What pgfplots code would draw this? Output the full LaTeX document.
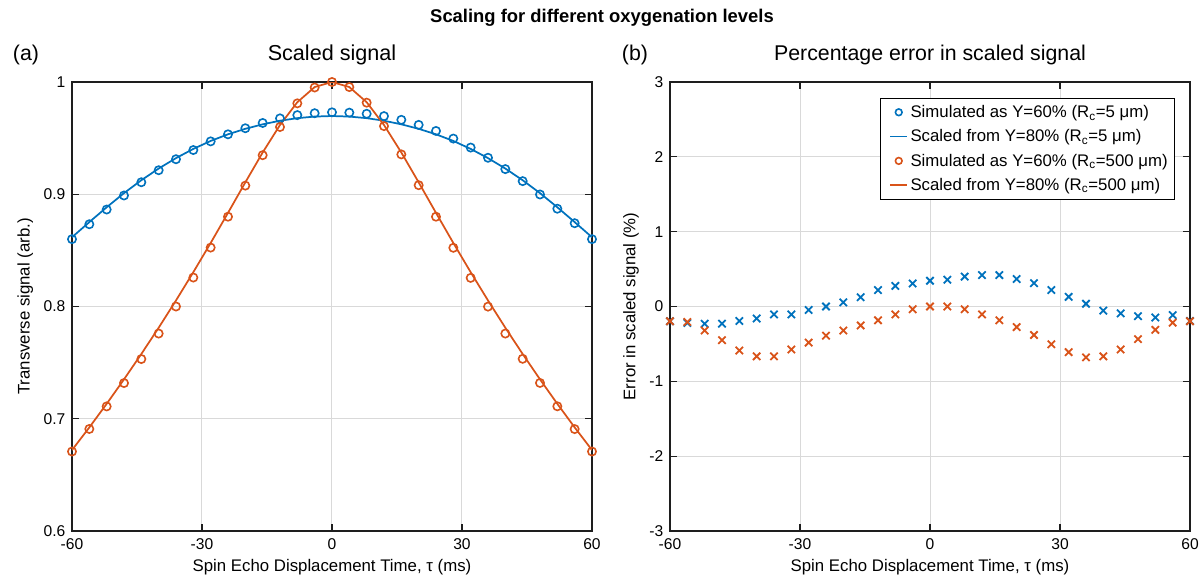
\documentclass[border=0pt]{standalone}
\usepackage{pgfplots}
\pgfplotsset{compat=1.18}
\usepackage{pgfplotstable}
\usepackage{fontspec}
\setmainfont{Liberation Sans}
\definecolor{mblue}{RGB}{0,114,189}
\definecolor{morange}{RGB}{217,83,25}
\definecolor{axgray}{RGB}{30,30,30}

\newcommand\lgline[1]{\tikz[baseline=-0.6ex]{\path[draw=none,fill=none] (0cm,-0.1cm) rectangle (0.62cm,0.1cm);\fill[#1,draw=none] (0.08cm,-0.65pt) rectangle (0.54cm,0.65pt);}}
\newcommand\lgmark[1]{\tikz[baseline=-0.6ex]{\path[draw=none,fill=none] (0cm,-0.1cm) rectangle (0.62cm,0.1cm);\draw[#1,line width=1.2pt,fill=none] (0.31cm,0cm) circle (2.5pt);}}

\pgfplotstableread{
t     simB    lineB   simO    lineO
-60   0.8600  0.8617  0.6708  0.6721
-56   0.8733  0.8752  0.6909  0.6923
-52   0.8864  0.8884  0.7110  0.7133
-48   0.8989  0.9010  0.7318  0.7351
-44   0.9107  0.9125  0.7532  0.7577
-40   0.9214  0.9229  0.7759  0.7811
-36   0.9312  0.9322  0.8000  0.8054
-32   0.9394  0.9404  0.8258  0.8306
-28   0.9471  0.9475  0.8525  0.8566
-24   0.9534  0.9534  0.8800  0.8834
-20   0.9588  0.9583  0.9077  0.9106
-16   0.9635  0.9623  0.9348  0.9372
-12   0.9676  0.9655  0.9599  0.9617
-8    0.9705  0.9678  0.9810  0.9820
-4    0.9722  0.9692  0.9951  0.9955
0     0.9730  0.9697  1.0000  1.0000
4     0.9727  0.9692  0.9955  0.9955
8     0.9717  0.9678  0.9816  0.9820
12    0.9696  0.9655  0.9607  0.9617
16    0.9663  0.9623  0.9355  0.9372
20    0.9618  0.9583  0.9081  0.9106
24    0.9564  0.9534  0.8800  0.8834
28    0.9496  0.9475  0.8523  0.8566
32    0.9416  0.9404  0.8255  0.8306
36    0.9325  0.9322  0.7999  0.8054
40    0.9224  0.9229  0.7759  0.7811
44    0.9117  0.9125  0.7534  0.7577
48    0.8998  0.9010  0.7319  0.7351
52    0.8871  0.8884  0.7111  0.7133
56    0.8742  0.8752  0.6908  0.6923
60    0.8600  0.8617  0.6708  0.6721
}\sigdata

\pgfplotstableread{
t     errB     errO
-60   -0.197   -0.197
-56   -0.220   -0.207
-52   -0.230   -0.321
-48   -0.230   -0.450
-44   -0.193   -0.588
-40   -0.160   -0.666
-36   -0.106   -0.666
-32   -0.106   -0.574
-28   -0.046   -0.482
-24    0.000   -0.390
-20    0.055   -0.321
-16    0.124   -0.253
-12    0.220   -0.184
-8     0.275   -0.106
-4     0.308   -0.037
0      0.344    0.000
4      0.358    0.000
8      0.400   -0.037
12     0.420   -0.106
16     0.420   -0.184
20     0.367   -0.275
24     0.312   -0.381
28     0.220   -0.505
32     0.129   -0.610
36     0.037   -0.680
40    -0.055   -0.666
44    -0.092   -0.574
48    -0.129   -0.436
52    -0.147   -0.312
56    -0.115   -0.216
60    -0.193   -0.197
}\errdata

\pgfplotsset{
  mstyle/.style={
    scale only axis,
    width=390pt, height=336.75pt,
    anchor=south west,
    xmin=-60, xmax=60,
    xtick={-60,-30,0,30,60},
    axis line style={axgray, line width=0.9pt},
    tick style={axgray, line width=0.9pt},
    tick align=inside,
    major tick length=5pt,
    xtick pos=both, ytick pos=both,
    grid=major,
    major grid style={black!15, line width=0.75pt},
    /pgf/number format/assume math mode=true,
    tick label style={font=\fontsize{11.7}{13}\selectfont, text=black},
    xticklabel style={yshift=-2.5pt},
    yticklabel style={xshift=-1.5pt},
    label style={font=\fontsize{12.6}{14}\selectfont},
    xlabel={Spin Echo Displacement Time, τ (ms)},
    xlabel style={yshift=0pt},
    ylabel style={yshift=1pt},
  }
}

\begin{document}
\begin{tikzpicture}
\path[use as bounding box] (0pt,0pt) rectangle (903pt,-433.5pt);

\begin{axis}[mstyle, at={(54pt,-398.25pt)},
  ymin=0.6, ymax=1, ytick={0.6,0.7,0.8,0.9,1},
  ylabel={Transverse signal (arb.)}]
\addplot[mblue, line width=1.3pt, no marks] table[x=t, y=lineB] {\sigdata};
\addplot[morange, line width=1.3pt, no marks] table[x=t, y=lineO] {\sigdata};
\addplot[mblue, only marks, mark=o, mark size=3.1pt, line width=1.2pt] table[x=t, y=simB] {\sigdata};
\addplot[morange, only marks, mark=o, mark size=3.1pt, line width=1.2pt] table[x=t, y=simO] {\sigdata};
\end{axis}

\begin{axis}[mstyle, at={(502.5pt,-398.25pt)},
  ymin=-3, ymax=3, ytick={-3,-2,-1,0,1,2,3},
  ylabel={Error in scaled signal (\%)},
  legend style={at={(0.971,0.964)}, anchor=north east, draw=black, line width=0.9pt,
    font=\fontsize{12.6}{14}\selectfont, row sep=3.6pt, inner xsep=3pt, inner ysep=3pt,
    cells={anchor=west}},
  legend cell align=left,
  legend image code/.code={},
]
\addplot[mblue, only marks, mark=x, mark size=3.9pt, line width=1.35pt, forget plot] table[x=t, y=errB] {\errdata};
\addplot[morange, only marks, mark=x, mark size=3.9pt, line width=1.35pt, forget plot] table[x=t, y=errO] {\errdata};
\addlegendimage{empty legend}
\addlegendentry{\lgmark{mblue}Simulated as Y=60\% (R\textsubscript{c}=5 μm)}
\addlegendimage{empty legend}
\addlegendentry{\lgline{mblue}Scaled from Y=80\% (R\textsubscript{c}=5 μm)}
\addlegendimage{empty legend}
\addlegendentry{\lgmark{morange}Simulated as Y=60\% (R\textsubscript{c}=500 μm)}
\addlegendimage{empty legend}
\addlegendentry{\lgline{morange}Scaled from Y=80\% (R\textsubscript{c}=500 μm)}
\end{axis}

\node[font=\fontsize{13.8}{16}\selectfont\bfseries] at (451.5pt,-13.5pt) {Scaling for different oxygenation levels};
\node[font=\fontsize{16}{18}\selectfont] at (19.5pt,-41.25pt) {(a)};
\node[font=\fontsize{16.2}{18}\selectfont] at (249pt,-41.25pt) {Scaled signal};
\node[font=\fontsize{16}{18}\selectfont] at (476.25pt,-41.25pt) {(b)};
\node[font=\fontsize{16}{18}\selectfont] at (697.5pt,-41.25pt) {Percentage error in scaled signal};
\end{tikzpicture}
\end{document}
